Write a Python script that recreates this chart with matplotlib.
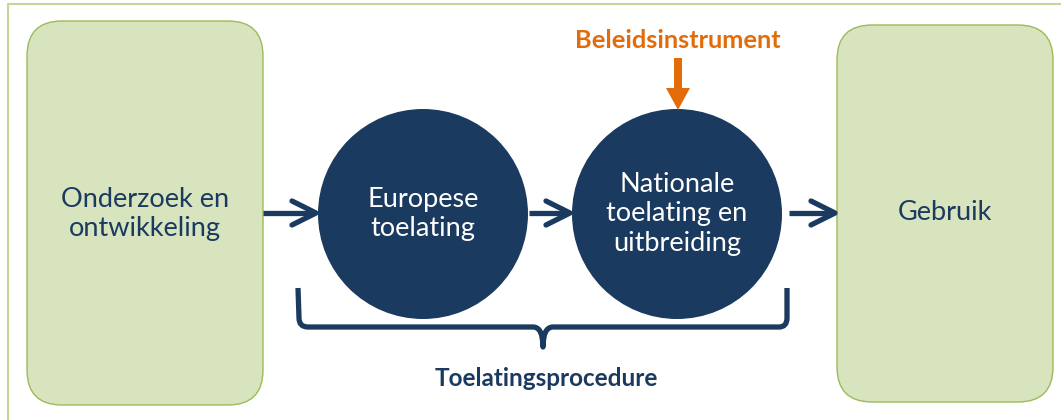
import matplotlib.pyplot as plt
from matplotlib.patches import FancyBboxPatch, Circle, PathPatch, FancyArrow
from matplotlib.path import Path

# teksten in het schema
box_links = "Onderzoek en\nontwikkeling"
box_rechts = "Gebruik"
cirkel_1 = "Europese\ntoelating"
cirkel_2 = "Nationale\ntoelating en\nuitbreiding"
instrument = "Beleidsinstrument"
procedure = "Toelatingsprocedure"

navy = "#1b3a5f"
groen = "#d7e4bd"
groen_rand = "#9bbb59"
oranje = "#e36c0a"
plt.rcParams['font.family'] = ['Lato', 'DejaVu Sans']

fig = plt.figure(figsize=(10.61, 4.2), dpi=100)
ax = fig.add_axes([0, 0, 1, 1])
ax.set_xlim(0, 1061)
ax.set_ylim(420, 0)
ax.axis('off')

# kader
ax.plot([8, 8, 1061], [420, 4, 4], color="#c3d69b", lw=1.5)

# groene boxen
for x0, x1, y0, y1 in [(27, 263, 21, 405), (837, 1053, 25, 402)]:
    ax.add_patch(FancyBboxPatch((x0 + 35, y0 + 35), x1 - x0 - 70, y1 - y0 - 70,
                                boxstyle="round,pad=35", fc=groen, ec=groen_rand, lw=1))
ax.text(145, 214, box_links, color=navy, fontsize=19.5, ha='center', va='center', linespacing=1.2)
ax.text(945, 213, box_rechts, color=navy, fontsize=19.5, ha='center', va='center')

# cirkels
for cx, txt in [(423, cirkel_1), (677, cirkel_2)]:
    ax.add_patch(Circle((cx, 214), 105, fc=navy, ec='none'))
    ax.text(cx, 214, txt, color='white', fontsize=19.5, ha='center', va='center', linespacing=1.2)

# pijlen
for xs, xe in [(263, 316), (529, 570), (789, 835)]:
    ax.plot([xs, xe - 2], [213, 213], color=navy, lw=3.8, solid_capstyle='butt')
    ax.plot([xe - 24, xe, xe - 24], [201, 213, 225], color=navy, lw=3.8,
            solid_capstyle='round', solid_joinstyle='round')

# oranje pijl
ax.add_patch(FancyArrow(678, 58, 0, 52, width=8, head_width=24, head_length=22,
                        length_includes_head=True, fc=oranje, ec='none'))
ax.text(678, 40, instrument, color=oranje, fontsize=18.3, fontweight='bold', ha='center', va='center')

# accolade
verts = [(298, 288), (299, 318), (299, 327), (308, 327), (533, 327), (543, 327), (543, 347),
         (543, 327), (553, 327), (779, 327), (787, 327), (787, 318), (787, 288)]
codes = [Path.MOVETO, Path.LINETO, Path.CURVE3, Path.CURVE3, Path.LINETO, Path.CURVE3, Path.CURVE3,
         Path.CURVE3, Path.CURVE3, Path.LINETO, Path.CURVE3, Path.CURVE3, Path.LINETO]
ax.add_patch(PathPatch(Path(verts, codes), fc='none', ec=navy, lw=3.8, joinstyle='round'))
ax.text(546, 378, procedure, color=navy, fontsize=17.5, fontweight='bold', ha='center', va='center')

fig.savefig("out.png", dpi=100)
